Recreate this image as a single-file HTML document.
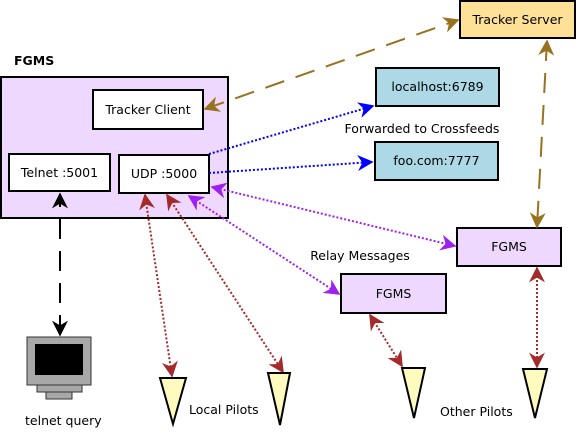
<!DOCTYPE html>
<html><head><meta charset="utf-8"><style>
body{margin:0;background:#fff}
text{font-family:"DejaVu Sans","Liberation Sans",sans-serif;font-size:12.5px;fill:#000}
</style></head><body>
<svg width="578" height="429" viewBox="0 0 578 429" xmlns="http://www.w3.org/2000/svg">
<defs>
<marker id="br" viewBox="0 0 10 10" refX="9" refY="5" markerWidth="8" markerHeight="8" orient="auto-start-reverse"><path d="M0,0 L10,5 L0,10 L3,5z" fill="#98721e"/></marker>
<marker id="bl" viewBox="0 0 10 10" refX="9" refY="5" markerWidth="8" markerHeight="8" orient="auto-start-reverse"><path d="M0,0 L10,5 L0,10 L3,5z" fill="#0000ff"/></marker>
<marker id="pu" viewBox="0 0 10 10" refX="9" refY="5" markerWidth="8" markerHeight="8" orient="auto-start-reverse"><path d="M0,0 L10,5 L0,10 L3,5z" fill="#a020f0"/></marker>
<marker id="rd" viewBox="0 0 10 10" refX="9" refY="5" markerWidth="8" markerHeight="8" orient="auto-start-reverse"><path d="M0,0 L10,5 L0,10 L3,5z" fill="#a52a2a"/></marker>
<marker id="bk" viewBox="0 0 10 10" refX="9" refY="5" markerWidth="8" markerHeight="8" orient="auto-start-reverse"><path d="M0,0 L10,5 L0,10 L3,5z" fill="#000"/></marker>
</defs>
<text x="14" y="65" style="font-weight:bold">FGMS</text>
<rect x="1" y="77" width="227" height="141" fill="#efd8fd" stroke="#000" stroke-width="2"/>
<rect x="93" y="90" width="110" height="39" fill="#fff" stroke="#000" stroke-width="2"/>
<text x="148" y="114" text-anchor="middle">Tracker Client</text>
<rect x="9" y="154" width="101" height="37" fill="#fff" stroke="#000" stroke-width="2"/>
<text x="59.5" y="177" text-anchor="middle">Telnet :5001</text>
<rect x="119" y="155" width="90" height="38" fill="#fff" stroke="#000" stroke-width="2"/>
<text x="164" y="178" text-anchor="middle">UDP :5000</text>
<rect x="460" y="1" width="115" height="37" fill="#fee097" stroke="#000" stroke-width="2"/>
<text x="517.5" y="24" text-anchor="middle">Tracker Server</text>
<rect x="376" y="68" width="123" height="38" fill="#add8e6" stroke="#000" stroke-width="2"/>
<text x="437.5" y="91" text-anchor="middle">localhost:6789</text>
<text x="422" y="133" text-anchor="middle">Forwarded to Crossfeeds</text>
<rect x="375" y="142" width="123" height="38" fill="#add8e6" stroke="#000" stroke-width="2"/>
<text x="436.5" y="165" text-anchor="middle">foo.com:7777</text>
<rect x="457" y="228" width="104" height="38" fill="#efd8fd" stroke="#000" stroke-width="2"/>
<text x="509" y="251" text-anchor="middle">FGMS</text>
<rect x="341" y="274" width="105" height="39" fill="#efd8fd" stroke="#000" stroke-width="2"/>
<text x="393.5" y="298" text-anchor="middle">FGMS</text>
<text x="360" y="260" text-anchor="middle">Relay Messages</text>
<line x1="205" y1="109" x2="458" y2="20" stroke="#98721e" stroke-width="2" stroke-dasharray="20,12" marker-start="url(#br)" marker-end="url(#br)"/>
<line x1="547" y1="41" x2="537" y2="227" stroke="#98721e" stroke-width="2" stroke-dasharray="20,12" marker-start="url(#br)" marker-end="url(#br)"/>
<line x1="209" y1="154" x2="373" y2="106" stroke="#0000ff" stroke-width="2" stroke-dasharray="2,2" marker-end="url(#bl)"/>
<line x1="209" y1="173" x2="372" y2="162" stroke="#0000ff" stroke-width="2" stroke-dasharray="2,2" marker-end="url(#bl)"/>
<line x1="212" y1="187" x2="455" y2="246" stroke="#a020f0" stroke-width="2" stroke-dasharray="2,2" marker-start="url(#pu)" marker-end="url(#pu)"/>
<line x1="189" y1="196" x2="339" y2="294" stroke="#a020f0" stroke-width="2" stroke-dasharray="2,2" marker-start="url(#pu)" marker-end="url(#pu)"/>
<line x1="145" y1="195" x2="172" y2="376" stroke="#a52a2a" stroke-width="2" stroke-dasharray="2,2" marker-start="url(#rd)" marker-end="url(#rd)"/>
<line x1="167" y1="195" x2="283" y2="372" stroke="#a52a2a" stroke-width="2" stroke-dasharray="2,2" marker-start="url(#rd)" marker-end="url(#rd)"/>
<line x1="370" y1="315" x2="402" y2="366" stroke="#a52a2a" stroke-width="2" stroke-dasharray="2,2" marker-start="url(#rd)" marker-end="url(#rd)"/>
<line x1="537" y1="268" x2="537" y2="367" stroke="#a52a2a" stroke-width="2" stroke-dasharray="2,2" marker-start="url(#rd)" marker-end="url(#rd)"/>
<line x1="60" y1="335" x2="60" y2="194" stroke="#000" stroke-width="2" stroke-dasharray="20,12" marker-start="url(#bk)" marker-end="url(#bk)"/>
<rect x="27" y="337" width="64" height="48" fill="#a8a8a8" stroke="#333" stroke-width="1"/>
<rect x="35" y="344" width="48" height="31" fill="#000"/>
<rect x="37" y="385" width="45" height="7" fill="#a8a8a8" stroke="#333" stroke-width="1"/>
<rect x="46" y="392" width="26" height="7" fill="#a8a8a8" stroke="#333" stroke-width="1"/>
<text x="25" y="425">telnet query</text>
<g fill="#fffbbf" stroke="#000" stroke-width="2">
<polygon points="160,378 186,378 173,424"/>
<polygon points="268,373 290,373 280,425"/>
<polygon points="402,368 425,368 414,418"/>
<polygon points="523,369 547,369 535,418"/>
</g>
<text x="189" y="414">Local Pilots</text>
<text x="440" y="416">Other Pilots</text>
</svg>
</body></html>
